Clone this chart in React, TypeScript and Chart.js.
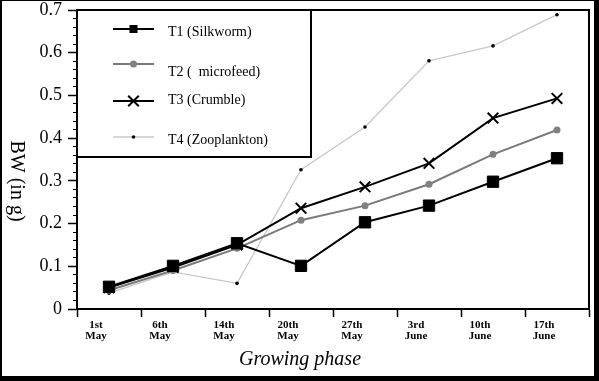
import React, { useEffect, useRef } from 'react';
import { Chart, registerables } from 'chart.js';
import { drawPoint } from 'chart.js/helpers';

Chart.register(...registerables);

const categories = [
  ['1st', 'May'],
  ['6th', 'May'],
  ['14th', 'May'],
  ['20th', 'May'],
  ['27th', 'May'],
  ['3rd', 'June'],
  ['10th', 'June'],
  ['17th', 'June'],
];
const seriesLabels = ['T1 (Silkworm)', 'T2 (  microfeed)', 'T3 (Crumble)', 'T4 (Zooplankton)'];
const t1Silkworm = [0.052, 0.101, 0.154, 0.101, 0.203, 0.242, 0.298, 0.353];
const t2Microfeed = [0.044, 0.09, 0.142, 0.208, 0.242, 0.292, 0.362, 0.419];
const t3Crumble = [0.05, 0.097, 0.15, 0.236, 0.286, 0.341, 0.447, 0.493];
const t4Zooplankton = [0.037, 0.087, 0.06, 0.326, 0.426, 0.581, 0.616, 0.689];
const yMin = 0;
const yMax = 0.7;
const yMajorStep = 0.1;
const yMinorStep = 0.02;
const xTitle = 'Growing phase';
const yTitle = 'BW (in g)';

const SERIF = '"Liberation Serif", "Times New Roman", serif';

const legendRows = [
  { lineY: 19, textY: 22, marker: { pointStyle: 'rect', radius: 5.7, rotation: 0, borderWidth: 0 } },
  { lineY: 54, textY: 62, marker: { pointStyle: 'circle', radius: 3.5, rotation: 0, borderWidth: 0 } },
  { lineY: 91, textY: 90, marker: { pointStyle: 'crossRot', radius: 7.5, rotation: 0, borderWidth: 2 } },
  { lineY: 127, textY: 130, marker: { pointStyle: 'circle', radius: 1.8, rotation: 0, borderWidth: 0 } },
];

const framePlugin = {
  id: 'frame',
  beforeDraw(chart: any) {
    const { ctx, width, height } = chart;
    ctx.save();
    ctx.fillStyle = '#fff';
    ctx.fillRect(0, 0, width, height);
    ctx.restore();
  },
  afterDatasetsDraw(chart: any) {
    const { ctx, chartArea: a } = chart;
    ctx.save();
    ctx.strokeStyle = '#000';
    ctx.lineWidth = 2;
    ctx.beginPath();
    ctx.moveTo(a.left, a.top);
    ctx.lineTo(a.right, a.top);
    ctx.lineTo(a.right, a.bottom);
    ctx.stroke();

    // legend box
    const bx = a.left;
    const by = a.top;
    const bw = 234;
    const bh = 147;
    ctx.fillStyle = '#fff';
    ctx.fillRect(bx, by, bw, bh);
    ctx.strokeRect(bx, by, bw, bh);

    const ds = chart.data.datasets;
    legendRows.forEach((row, i) => {
      const d = ds[i];
      const x1 = bx + 36;
      const x2 = bx + 77;
      const ly = by + row.lineY;
      ctx.strokeStyle = d.borderColor;
      ctx.lineWidth = i === 3 ? 1.5 : 2;
      ctx.beginPath();
      ctx.moveTo(x1, ly);
      ctx.lineTo(x2, ly);
      ctx.stroke();
      ctx.fillStyle = d.pointBackgroundColor;
      ctx.strokeStyle = d.pointBorderColor;
      ctx.lineWidth = row.marker.borderWidth || 1;
      drawPoint(ctx, row.marker as any, (x1 + x2) / 2, ly);
      ctx.fillStyle = '#000';
      ctx.font = `14px ${SERIF}`;
      ctx.textAlign = 'left';
      ctx.textBaseline = 'middle';
      ctx.fillText(d.label, bx + 91, by + row.textY);
    });
    ctx.restore();
  },
  afterDraw(chart: any) {
    const { ctx, width, height } = chart;
    ctx.save();
    ctx.fillStyle = '#000';
    // axis titles
    ctx.font = `italic 20px ${SERIF}`;
    ctx.textAlign = 'center';
    ctx.textBaseline = 'middle';
    ctx.fillText(xTitle, 300, 360);
    ctx.save();
    ctx.translate(16, 181);
    ctx.rotate(Math.PI / 2);
    ctx.font = `20px ${SERIF}`;
    ctx.fillText(yTitle, 0, 0);
    ctx.restore();
    // outer frame
    ctx.fillRect(0, 0, width, 1);
    ctx.fillRect(0, 0, 2, height);
    ctx.fillRect(width - 5, 0, 5, height);
    ctx.fillRect(0, height - 5, width, 5);
    ctx.restore();
  },
};

export default function App() {
  const ref = useRef<HTMLCanvasElement | null>(null);
  useEffect(() => {
    if (!ref.current) return;
    const chart = new Chart(ref.current, {
      type: 'line',
      data: {
        labels: categories,
        datasets: [
          {
            label: seriesLabels[0],
            data: t1Silkworm,
            borderColor: '#000',
            borderWidth: 2,
            pointStyle: 'rect',
            pointRadius: 8,
            pointBorderWidth: 1,
            pointBackgroundColor: '#000',
            pointBorderColor: '#000',
            tension: 0,
          },
          {
            label: seriesLabels[1],
            data: t2Microfeed,
            borderColor: '#7a7a7a',
            borderWidth: 2,
            pointStyle: 'circle',
            pointRadius: 3.5,
            pointBorderWidth: 0,
            pointBackgroundColor: '#808080',
            pointBorderColor: '#808080',
            tension: 0,
          },
          {
            label: seriesLabels[2],
            data: t3Crumble,
            borderColor: '#000',
            borderWidth: 2,
            pointStyle: 'crossRot',
            pointRadius: 7.5,
            pointBorderWidth: 2,
            pointBackgroundColor: '#000',
            pointBorderColor: '#000',
            tension: 0,
          },
          {
            label: seriesLabels[3],
            data: t4Zooplankton,
            borderColor: '#c8c8c8',
            borderWidth: 1.3,
            pointStyle: 'circle',
            pointRadius: 1.8,
            pointBorderWidth: 0,
            pointBackgroundColor: '#000',
            pointBorderColor: '#000',
            tension: 0,
          },
        ],
      },
      options: {
        responsive: false,
        animation: false,
        devicePixelRatio: 1,
        layout: { padding: { left: 0, right: 10, top: 10, bottom: 0 } },
        plugins: {
          legend: { display: false },
          tooltip: { enabled: false },
        },
        scales: {
          x: {
            type: 'category',
            offset: true,
            grid: {
              offset: true,
              drawOnChartArea: false,
              drawTicks: true,
              tickLength: 8,
              tickColor: '#000',
              tickWidth: 1.5,
            },
            border: { display: true, color: '#000', width: 2 },
            ticks: {
              color: '#000',
              font: { family: SERIF, size: 11, weight: 'bold', lineHeight: 1.05 },
              labelOffset: -13,
              padding: 2,
              maxRotation: 0,
              autoSkip: false,
            },
            afterFit(scale: any) {
              scale.height = 72;
              scale.paddingLeft = 0;
              scale.paddingRight = 0;
            },
          },
          y: {
            type: 'linear',
            position: 'left',
            weight: 1,
            min: yMin,
            max: yMax,
            grid: {
              drawOnChartArea: false,
              tickLength: 9,
              tickColor: '#000',
              tickWidth: 1.5,
            },
            border: { display: true, color: '#000', width: 2 },
            ticks: {
              stepSize: yMajorStep,
              color: '#000',
              padding: 6,
              font: { family: SERIF, size: 18 },
              callback: (v: any) => (Number(v) === 0 ? '0' : Number(v).toFixed(1)),
            },
            afterFit(scale: any) {
              scale.width = 77;
              scale.paddingTop = 0;
              scale.paddingBottom = 0;
            },
          },
          yMinor: {
            type: 'linear',
            position: 'left',
            weight: 0,
            min: yMin,
            max: yMax,
            grid: {
              drawOnChartArea: false,
              tickLength: 4,
              tickColor: '#000',
              tickWidth: 1,
            },
            border: { display: false },
            ticks: {
              stepSize: yMinorStep,
              maxTicksLimit: 100,
              autoSkip: false,
              display: false,
            },
            afterFit(scale: any) {
              scale.width = 0;
              scale.paddingTop = 0;
              scale.paddingBottom = 0;
            },
          },
        },
      } as any,
      plugins: [framePlugin],
    });
    return () => chart.destroy();
  }, []);
  return (
    <div style={{ position: 'absolute', left: 0, top: 0, width: 599, height: 381 }}>
      <canvas ref={ref} width={599} height={381} style={{ display: 'block' }} />
    </div>
  );
}
